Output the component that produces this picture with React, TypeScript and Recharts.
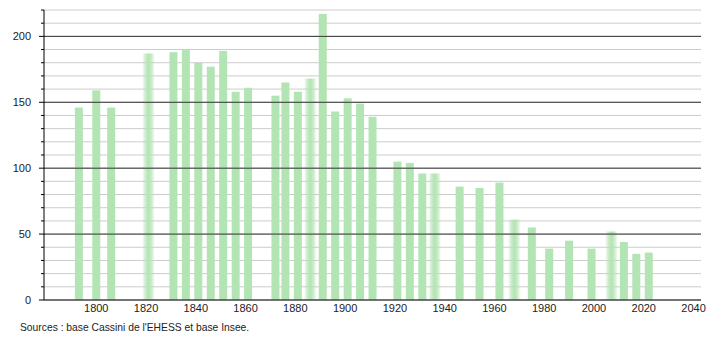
import React from 'react';
import { BarChart, Bar, XAxis, YAxis, CartesianGrid, ReferenceLine } from 'recharts';

const years = [1793, 1800, 1806, 1821, 1831, 1836, 1841, 1846, 1851, 1856, 1861, 1872, 1876, 1881, 1886, 1891, 1896, 1901, 1906, 1911, 1921, 1926, 1931, 1936, 1946, 1954, 1962, 1968, 1975, 1982, 1990, 1999, 2007, 2012, 2017, 2022];
const population = [146, 159, 146, 187, 188, 190, 180, 177, 189, 158, 161, 155, 165, 158, 168, 217, 143, 153, 149, 139, 105, 104, 96, 96, 86, 85, 89, 61, 55, 39, 45, 39, 52, 44, 35, 36];
const blurredYears = [1821, 1886, 1936, 1968, 2007];
const xTicks = [1800, 1820, 1840, 1860, 1880, 1900, 1920, 1940, 1960, 1980, 2000, 2020, 2040];
const yTicks = [0, 10, 20, 30, 40, 50, 60, 70, 80, 90, 100, 110, 120, 130, 140, 150, 160, 170, 180, 190, 200, 210, 220];
const majorY = [50, 100, 150, 200];
const sourceText = "Sources : base Cassini de l'EHESS et base Insee.";

const data = years.map((y, i) => ({ year: y, pop: population[i], blur: blurredYears.includes(y) }));

const BAR_COLOR = '#b3e4b3';
const FONT = 'Liberation Sans, Arial, sans-serif';

const BarShape = (props: any) => {
  const { x, y, width, height, payload } = props;
  if (payload && payload.blur) {
    return <rect x={x - 2} y={y} width={width + 4} height={height} fill="url(#blurGrad)" />;
  }
  return <rect x={x} y={y} width={width} height={height} fill={BAR_COLOR} />;
};

const YTick = (props: any) => {
  const { y, payload } = props;
  const v = payload.value;
  const major = v % 50 === 0;
  return (
    <g>
      <line x1={major ? 39 : 41} x2={44} y1={y} y2={y} stroke="#000" strokeWidth={1} />
      {major && (
        <text x={31} y={y + 4} textAnchor="end" fontSize={11} fontFamily={FONT} fill="#222">{v}</text>
      )}
    </g>
  );
};

const XTick = (props: any) => {
  const { x, payload } = props;
  return (
    <text x={x} y={312} textAnchor="middle" fontSize={11} fontFamily={FONT} fill="#222">{payload.value}</text>
  );
};

export default function App() {
  return (
    <div style={{ position: 'absolute', left: 0, top: 0, width: 710, height: 340, background: '#fff' }}>
      <BarChart width={710} height={340} data={data} margin={{ top: 10, right: 9, bottom: 20, left: 0 }}>
        <defs>
          <linearGradient id="blurGrad" x1="0" y1="0" x2="1" y2="0">
            <stop offset="0%" stopColor={BAR_COLOR} stopOpacity={0.1} />
            <stop offset="25%" stopColor={BAR_COLOR} stopOpacity={0.7} />
            <stop offset="50%" stopColor={BAR_COLOR} stopOpacity={1} />
            <stop offset="75%" stopColor={BAR_COLOR} stopOpacity={0.7} />
            <stop offset="100%" stopColor={BAR_COLOR} stopOpacity={0.1} />
          </linearGradient>
        </defs>
        <CartesianGrid horizontal={true} vertical={false} stroke="#cccccc" strokeWidth={1} />
        {majorY.map((v) => (
          <ReferenceLine key={v} y={v} stroke="#333333" strokeWidth={1} />
        ))}
        <XAxis
          dataKey="year"
          type="number"
          domain={[1779, 2043]}
          ticks={xTicks}
          allowDataOverflow
          tickLine={false}
          axisLine={{ stroke: '#000' }}
          tick={<XTick />}
          height={20}
          interval={0}
        />
        <YAxis
          type="number"
          domain={[0, 220]}
          ticks={yTicks}
          width={44}
          interval={0}
          tickLine={false}
          axisLine={{ stroke: '#000' }}
          tick={<YTick />}
        />
        <Bar dataKey="pop" barSize={8} fill={BAR_COLOR} isAnimationActive={false} shape={<BarShape />} />
      </BarChart>
      <div style={{ position: 'absolute', left: 20, top: 322, fontSize: 10.3, fontFamily: FONT, color: '#222', whiteSpace: 'nowrap' }}>
        {sourceText}
      </div>
    </div>
  );
}
